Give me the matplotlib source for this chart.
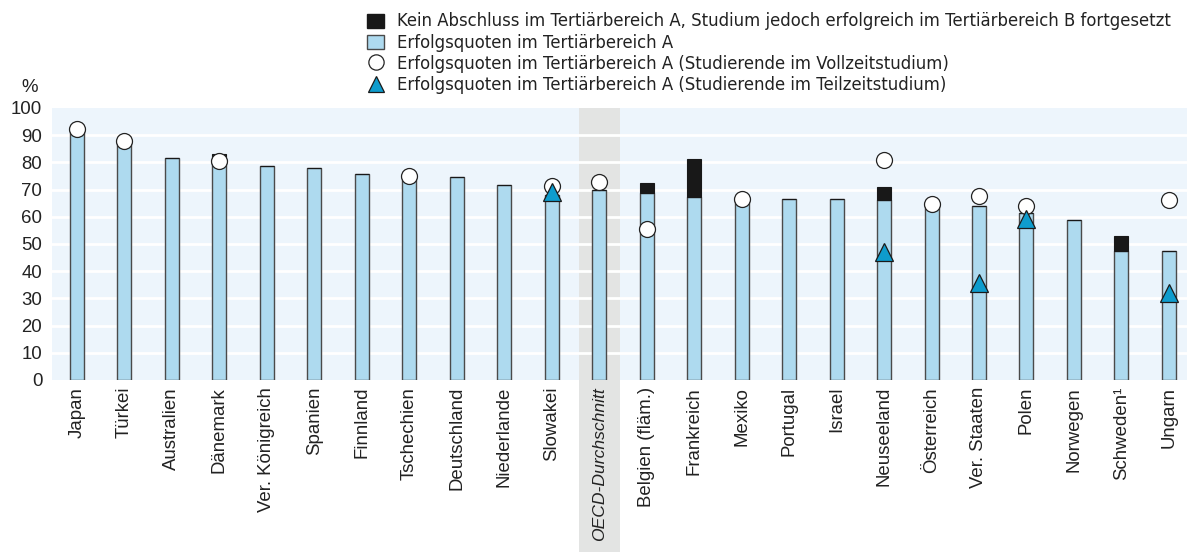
import numpy as np
import matplotlib.pyplot as plt
from matplotlib.patches import Patch, Rectangle
from matplotlib.lines import Line2D
import matplotlib.transforms as mtransforms

plt.rcParams['font.family'] = ['Liberation Sans', 'DejaVu Sans']

countries = ['Japan', 'Türkei', 'Australien', 'Dänemark', 'Ver. Königreich', 'Spanien',
             'Finnland', 'Tschechien', 'Deutschland', 'Niederlande', 'Slowakei',
             'OECD-Durchschnitt', 'Belgien (fläm.)', 'Frankreich', 'Mexiko', 'Portugal',
             'Israel', 'Neuseeland', 'Österreich', 'Ver. Staaten', 'Polen', 'Norwegen',
             'Schweden¹', 'Ungarn']
nan = np.nan
# Erfolgsquoten im Tertiaerbereich A
tert_a = [91.5, 87.0, 81.5, 81.0, 78.8, 78.1, 75.6, 74.5, 74.7, 71.6, 68.0,
          70.0, 68.7, 67.2, 66.3, 66.6, 66.6, 66.0, 64.3, 64.1, 61.5, 59.0, 47.5, 47.6]
# kein Abschluss in A, aber erfolgreich in B fortgesetzt
tert_b = [0, 0, 0, 2.0, 0, 0, 0, 0, 0, 0, 0,
          0, 3.8, 14.2, 0, 0, 0, 4.9, 0, 0, 0, 0, 5.6, 0]
# Vollzeitstudium
full_time = [92.4, 87.7, nan, 80.4, nan, nan, nan, 74.9, nan, nan, 71.5,
             72.7, 55.6, nan, 66.7, nan, nan, 80.9, 64.8, 67.5, 63.8, nan, nan, 66.2]
# Teilzeitstudium
part_time = [nan, nan, nan, nan, nan, nan, nan, nan, nan, nan, 69.0,
             nan, nan, nan, nan, nan, nan, 47.1, nan, 35.5, 59.2, nan, nan, 32.1]
yticks = [0, 10, 20, 30, 40, 50, 60, 70, 80, 90, 100]
legend_labels = ['Kein Abschluss im Tertiärbereich A, Studium jedoch erfolgreich im Tertiärbereich B fortgesetzt',
                 'Erfolgsquoten im Tertiärbereich A',
                 'Erfolgsquoten im Tertiärbereich A (Studierende im Vollzeitstudium)',
                 'Erfolgsquoten im Tertiärbereich A (Studierende im Teilzeitstudium)']

bar_col = '#AEDAEF'
edge_col = '#4a4a4a'
tri_col = '#0E9CCD'
txt_col = '#222222'

fig = plt.figure(figsize=(11.87, 5.52), dpi=100)
ax = fig.add_axes([52/1187, 1-380/552, 1-52/1187, 272/552])
ax.set_facecolor('#EDF5FC')

x = np.arange(len(countries))
oecd = countries.index('OECD-Durchschnitt')

# grey band behind the OECD average, runs down through the labels
trans = mtransforms.blended_transform_factory(ax.transData, ax.transAxes)
ax.add_patch(Rectangle((oecd - 0.43, -0.64), 0.86, 1.64, transform=trans,
                       facecolor='#E3E4E3', edgecolor='none', clip_on=False, zorder=0.5))

for yv in yticks[1:-1]:
    ax.axhline(yv, color='white', lw=2, zorder=1)

w = 0.295
ax.bar(x, tert_a, width=w, color=bar_col, edgecolor=edge_col, linewidth=1, zorder=3)
ax.bar(x, tert_b, width=w, bottom=tert_a, color='#181818', edgecolor='#181818', linewidth=0.8, zorder=3)
ax.plot(x, full_time, 'o', ms=11.5, mfc='white', mec='#222222', mew=0.9, ls='none', zorder=4)
ax.plot(x, part_time, '^', ms=12.5, mfc=tri_col, mec='#1a1a1a', mew=0.9, ls='none', zorder=5)

ax.set_xlim(-0.52, 23.38)
ax.set_ylim(0, 100)
ax.set_yticks(yticks)
ax.set_xticks(x)
ax.set_xticklabels(countries, rotation=90, va='top', ha='center')
ax.tick_params(axis='both', length=0, labelsize=13.4, colors=txt_col)
ax.tick_params(axis='y', pad=7)
ax.tick_params(axis='x', pad=5)
lab = ax.get_xticklabels()[oecd]
lab.set_style('italic')
lab.set_fontsize(12.6)
for s in ax.spines.values():
    s.set_visible(False)

fig.text(30/1187, 1-87/552, '%', fontsize=13.4, color=txt_col, ha='center', va='center')

handles = [Patch(facecolor='#181818', edgecolor='#181818'),
           Patch(facecolor=bar_col, edgecolor=edge_col),
           Line2D([], [], marker='o', ls='none', ms=11, mfc='white', mec='#222222', mew=0.9),
           Line2D([], [], marker='^', ls='none', ms=12, mfc=tri_col, mec='#1a1a1a', mew=0.9)]
fig.legend(handles, legend_labels, loc='upper left', bbox_to_anchor=(355/1187, 1.0),
           frameon=False, prop={'family': 'DejaVu Sans', 'size': 11.9}, labelcolor=txt_col,
           handlelength=1.0, handleheight=0.9, handletextpad=0.8, labelspacing=0.19,
           borderpad=0.25)

fig.savefig('out.png', dpi=100)
